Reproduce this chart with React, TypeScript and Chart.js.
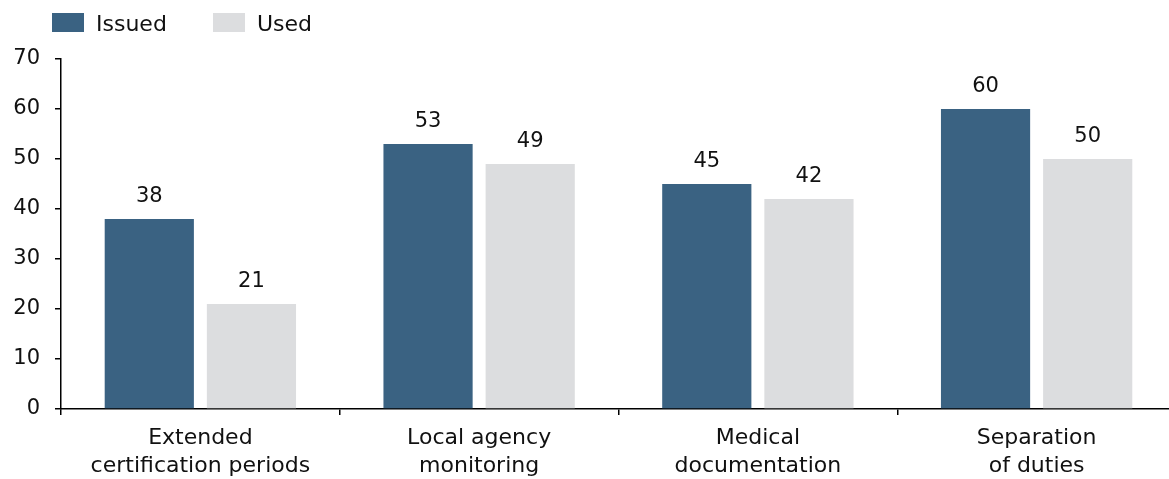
import React, { useEffect, useRef } from "react";
import { Chart, registerables } from "chart.js";

Chart.register(...registerables);

const categories: string[][] = [
  ["Extended", "certification periods"],
  ["Local agency", "monitoring"],
  ["Medical", "documentation"],
  ["Separation", "of duties"],
];
const issued = [38, 53, 45, 60];
const used = [21, 49, 42, 50];
const yTicks = [0, 10, 20, 30, 40, 50, 60, 70];
const seriesNames = ["Issued", "Used"];
const colors = ["#3A6282", "#DCDDDF"];

const FONT = "'DejaVu Sans', sans-serif";
const TEXT = "#111";

const valueLabels = {
  id: "valueLabels",
  afterDatasetsDraw(chart: any) {
    const ctx = chart.ctx;
    ctx.save();
    ctx.font = `21px ${FONT}`;
    ctx.fillStyle = TEXT;
    ctx.textAlign = "center";
    ctx.textBaseline = "alphabetic";
    chart.data.datasets.forEach((ds: any, i: number) => {
      const meta = chart.getDatasetMeta(i);
      meta.data.forEach((bar: any, j: number) => {
        ctx.fillText(String(ds.data[j]), bar.x, bar.y - 17);
      });
    });
    ctx.restore();
  },
};

const customLegend = {
  id: "customLegend",
  afterDraw(chart: any) {
    const ctx = chart.ctx;
    ctx.save();
    ctx.font = `22px ${FONT}`;
    ctx.textBaseline = "alphabetic";
    ctx.textAlign = "left";
    let x = 52;
    const y = 13;
    chart.data.datasets.forEach((ds: any) => {
      ctx.fillStyle = ds.backgroundColor;
      ctx.fillRect(x, y, 32, 19);
      ctx.fillStyle = TEXT;
      ctx.fillText(ds.label, x + 44, y + 18);
      x += 161;
    });
    ctx.restore();
  },
};

export default function App() {
  const ref = useRef<HTMLCanvasElement>(null);
  useEffect(() => {
    if (!ref.current) return;
    const chart = new Chart(ref.current, {
      type: "bar",
      data: {
        labels: categories,
        datasets: [
          {
            label: seriesNames[0],
            data: issued,
            backgroundColor: colors[0],
            categoryPercentage: 0.733,
            barPercentage: 0.873,
          },
          {
            label: seriesNames[1],
            data: used,
            backgroundColor: colors[1],
            categoryPercentage: 0.733,
            barPercentage: 0.873,
          },
        ],
      },
      options: {
        animation: false,
        responsive: false,
        maintainAspectRatio: false,
        layout: { padding: { top: 59, right: 0, left: 0, bottom: 0 } },
        plugins: {
          legend: { display: false },
          tooltip: { enabled: false },
        },
        scales: {
          x: {
            grid: {
              offset: true,
              drawOnChartArea: false,
              drawTicks: true,
              tickLength: 6,
              color: "#000",
              lineWidth: 1.5,
            },
            border: { color: "#000", width: 1.5 },
            ticks: {
              color: TEXT,
              font: { family: FONT, size: 22, lineHeight: 1.25 },
              padding: 10,
              maxRotation: 0,
              autoSkip: false,
            },
            afterFit(scale: any) {
              scale.height = 70;
            },
          },
          y: {
            min: 0,
            max: 70,
            afterBuildTicks(scale: any) {
              scale.ticks = yTicks.map((v) => ({ value: v }));
            },
            grid: {
              drawOnChartArea: false,
              drawTicks: true,
              tickLength: 6,
              color: "#000",
              lineWidth: 1.5,
            },
            border: { color: "#000", width: 1.5 },
            ticks: {
              color: TEXT,
              font: { family: FONT, size: 21 },
              padding: 15,
            },
            afterFit(scale: any) {
              scale.width = 61;
            },
          },
        },
      },
      plugins: [valueLabels, customLegend],
    });
    return () => chart.destroy();
  }, []);
  return (
    <div style={{ position: "fixed", left: 0, top: 0, width: 1169, height: 479, overflow: "hidden", background: "#fff" }}>
      <canvas ref={ref} width={1176} height={479} style={{ width: 1176, height: 479 }} />
    </div>
  );
}
